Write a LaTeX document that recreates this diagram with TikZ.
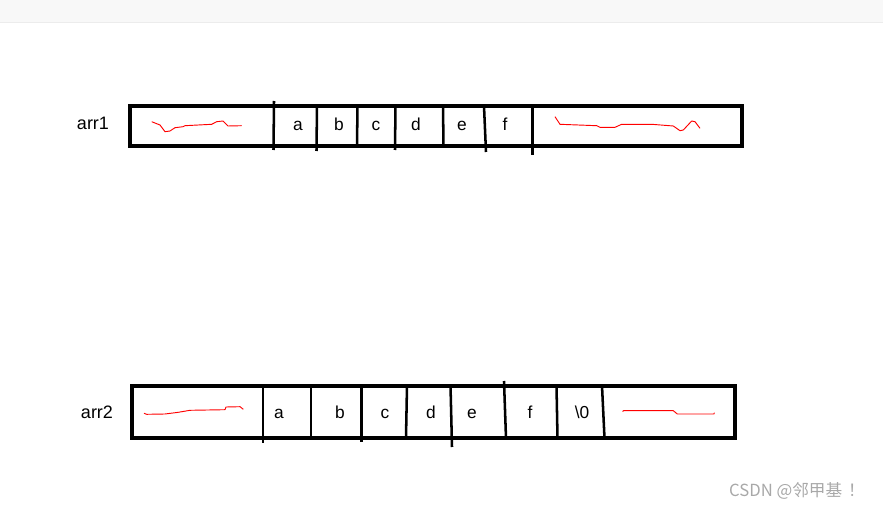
\documentclass[tikz,border=0pt]{standalone}
\usepackage{fontspec}
\setmainfont{Liberation Sans}
\newfontfamily\cjk{Noto Sans CJK SC}
\definecolor{bandgray}{HTML}{F8F8F8}
\definecolor{bandline}{HTML}{ECECEC}
\definecolor{wmgray}{HTML}{A8A8A8}
\begin{document}
\begin{tikzpicture}[x=0.75pt,y=-0.75pt,
  outerbox/.style={draw=black,line width=3pt},
  divider/.style={draw=black,line width=1.9pt},
  cell/.style={font=\fontsize{13pt}{15pt}\selectfont,inner sep=0pt,anchor=base},
  arrlabel/.style={font=\fontsize{13.5pt}{15pt}\selectfont,inner sep=0pt,anchor=base},
  squiggle/.style={draw=red,line width=0.7pt,line join=round}]
\useasboundingbox (0,0) rectangle (883,510);
\fill[bandgray] (0,0) rectangle (883,22);
\draw[bandline,line width=1pt] (0,22.5) -- (883,22.5);

% ---- arr1 ----
\node[arrlabel] (lab1) at (93,129.5) {arr1};
\draw[outerbox] (130,106) rectangle (742,146);
\draw[divider] (274,101) -- (273.5,150);
\draw[divider] (317,106) -- (316.5,151);
\draw[divider] (357.5,106) -- (357,146);
\draw[divider] (395.5,106) -- (395,150);
\draw[divider] (443,106) -- (443.5,146);
\draw[divider] (484,106) -- (486,152);
\draw[divider] (532.5,106) -- (532.5,155);
\node[cell] (a1) at (298,131) {a};
\node[cell] (b1) at (339,131) {b};
\node[cell] (c1) at (376,131) {c};
\node[cell] (d1) at (416,131) {d};
\node[cell] (e1) at (462,131) {e};
\node[cell] (f1) at (505,131) {f};
\draw[squiggle] (151.7,121.7) -- (160,125) -- (165,131.7) -- (170,131) -- (175,127.7) -- (183,126.7) -- (185,125.7) -- (211.7,124.3) -- (216.7,121.7) -- (223,121) -- (228,126) -- (241.7,125.7);
\draw[squiggle] (555,116.7) -- (560,124.3) -- (596.7,125.7) -- (600,127.3) -- (615,127.3) -- (621.7,124.3) -- (651.7,124.3) -- (673.3,126) -- (680,130.7) -- (683.3,130) -- (691.7,121) -- (695,121.7) -- (700,128.3);

% ---- arr2 ----
\node[arrlabel] (lab2) at (97,418) {arr2};
\draw[outerbox] (132,385.5) rectangle (735,438);
\draw[divider] (263,385.5) -- (263,443);
\draw[divider] (311,385.5) -- (311,438);
\draw[divider] (361.5,385.5) -- (361.5,442);
\draw[divider] (407,385.5) -- (406,438);
\draw[divider] (450.5,385.5) -- (452,447);
\draw[divider] (504,381) -- (506,438);
\draw[divider] (556.5,385.5) -- (557.5,438);
\draw[divider] (602,385.5) -- (604.5,438);
\node[cell] (a2) at (279,418.3) {a};
\node[cell] (b2) at (340,418.3) {b};
\node[cell] (c2) at (385,418.3) {c};
\node[cell] (d2) at (431,418.3) {d};
\node[cell] (e2) at (472,418.3) {e};
\node[cell] (f2) at (530,418.3) {f};
\node[cell] (z2) at (582,418.3) {\textbackslash 0};
\draw[squiggle] (144,413.3) -- (146.7,414.3) -- (165,414) -- (178.3,412.3) -- (190,410.3) -- (225,409.7) -- (226,407) -- (240,406.7) -- (243.3,409.3);
\draw[squiggle] (622.7,411.7) -- (623.3,410.7) -- (673.3,410.7) -- (677.3,414) -- (714,414) -- (714.3,412.7);

% ---- watermark ----
\node[font=\cjk\fontsize{12.5pt}{14pt}\selectfont,text=wmgray,inner sep=0pt] (wm) at (797,491) {CSDN @邻甲基\hspace{0.35em}！};
\end{tikzpicture}
\end{document}
